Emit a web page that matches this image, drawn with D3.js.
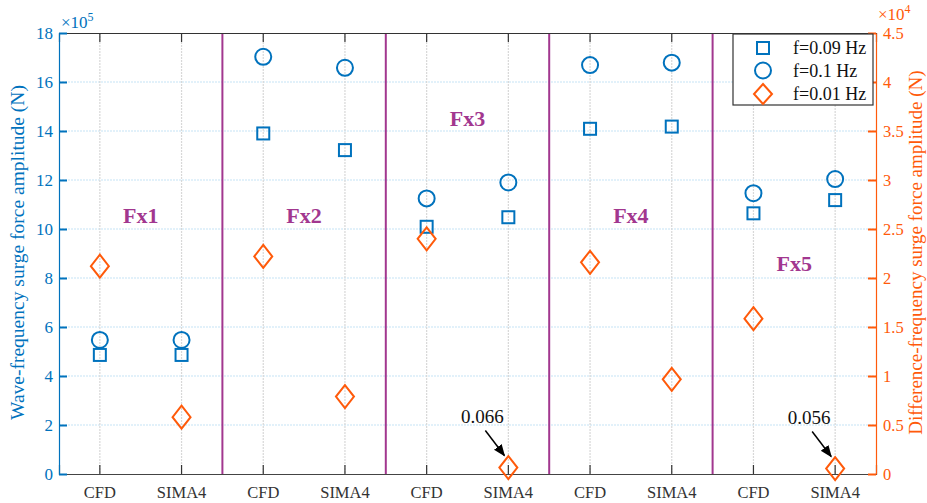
<!DOCTYPE html>
<html>
<head>
<meta charset="utf-8">
<script src="https://cdn.jsdelivr.net/npm/d3@7"></script>
<style>
  body { margin: 0; background: #fff; }
  svg text { font-family: "Liberation Serif", "DejaVu Serif", serif; }
</style>
</head>
<body>
<div id="chart"></div>
<script>
// categories and data
var groups = ["Fx1", "Fx2", "Fx3", "Fx4", "Fx5"];
var methods = ["CFD", "SIMA4"];
var cats = ["CFD", "SIMA4", "CFD", "SIMA4", "CFD", "SIMA4", "CFD", "SIMA4", "CFD", "SIMA4"];
// wave-frequency amplitude, x10^5 N (left axis)
var f009 = [4.86, 4.86, 13.9, 13.22, 10.09, 10.48, 14.09, 14.18, 10.64, 11.18];
var f01 = [5.47, 5.47, 17.03, 16.58, 11.25, 11.9, 16.69, 16.79, 11.46, 12.04];
// difference-frequency amplitude, x10^4 N (right axis)
var f001 = [2.12, 0.58, 2.22, 0.79, 2.4, 0.066, 2.16, 0.966, 1.585, 0.056];
var leftTicks = [0, 2, 4, 6, 8, 10, 12, 14, 16, 18];
var rightTicks = [0, 0.5, 1, 1.5, 2, 2.5, 3, 3.5, 4, 4.5];
var groupLabelY = [10.57, 10.57, 14.5, 10.57, 8.6];
var notes = [{i: 5, text: "0.066"}, {i: 9, text: "0.056"}];
var legendItems = ["f=0.09 Hz", "f=0.1 Hz", "f=0.01 Hz"];

var blue = "#0072bd", orange = "#ff5a0a", purple = "#a2378f";
var serif = "Liberation Serif";

var margin = {top: 33, right: 51, bottom: 29, left: 59},
    width = 927 - margin.left - margin.right,
    height = 503 - margin.top - margin.bottom;

var svg = d3.select("#chart").append("svg")
    .attr("width", 927).attr("height", 503)
  .append("g")
    .attr("transform", "translate(" + margin.left + "," + margin.top + ")");

var x = d3.scaleBand().domain(d3.range(cats.length)).range([0, width]).padding(0);
var cx = function(i) { return x(i) + x.bandwidth() / 2; };
var y = d3.scaleLinear().domain([0, 18]).range([height, 0]);
var y2 = d3.scaleLinear().domain([0, 4.5]).range([height, 0]);

// grid
svg.append("g").selectAll("line").data(leftTicks.slice(1, -1)).enter().append("line")
    .attr("x1", 0).attr("x2", width)
    .attr("y1", function(d) { return y(d); }).attr("y2", function(d) { return y(d); })
    .attr("stroke", "#c6e3f5").attr("stroke-width", 1.2).attr("stroke-dasharray", "2,1");
svg.append("g").selectAll("line").data(d3.range(cats.length)).enter().append("line")
    .attr("x1", cx).attr("x2", cx)
    .attr("y1", 0).attr("y2", height)
    .attr("stroke", "#d8d8d8").attr("stroke-width", 1.2).attr("stroke-dasharray", "2,1");

// group separators
svg.append("g").selectAll("line").data([2, 4, 6, 8]).enter().append("line")
    .attr("x1", function(d) { return x(d); }).attr("x2", function(d) { return x(d); })
    .attr("y1", 0).attr("y2", height)
    .attr("stroke", purple).attr("stroke-width", 2);

// axes
var xAxis = d3.axisBottom(x).tickSize(-9).tickPadding(12).tickFormat(function(i) { return cats[i]; });
var gx = svg.append("g").attr("transform", "translate(0," + height + ")").call(xAxis)
    .attr("font-family", serif).attr("font-size", 16.5);
gx.select(".domain").attr("stroke", "#444").attr("stroke-width", 1.2);
gx.selectAll(".tick line").attr("stroke", "#333").attr("stroke-width", 1.2);
gx.selectAll("text").attr("fill", "#333");

var xTop = d3.axisTop(x).tickSize(-9).tickFormat("");
var gt = svg.append("g").call(xTop);
gt.select(".domain").attr("stroke", "#333").attr("stroke-width", 1.2);
gt.selectAll(".tick line").attr("stroke", "#333").attr("stroke-width", 1.2);

var yAxis = d3.axisLeft(y).tickValues(leftTicks).tickSize(-8).tickPadding(6).tickSizeOuter(0);
var gy = svg.append("g").call(yAxis)
    .attr("font-family", serif).attr("font-size", 17);
gy.select(".domain").attr("stroke", blue).attr("stroke-width", 1.2);
gy.selectAll(".tick line").attr("stroke", blue).attr("stroke-width", 2);
gy.selectAll("text").attr("fill", blue);

var yAxis2 = d3.axisRight(y2).tickValues(rightTicks).tickSize(-8).tickPadding(7).tickSizeOuter(0)
    .tickFormat(function(d) { return d3.format("")(d); });
var gy2 = svg.append("g").attr("transform", "translate(" + width + ",0)").call(yAxis2)
    .attr("font-family", serif).attr("font-size", 16.5);
gy2.select(".domain").attr("stroke", orange).attr("stroke-width", 1.2);
gy2.selectAll(".tick line").attr("stroke", orange).attr("stroke-width", 2);
gy2.selectAll("text").attr("fill", orange);

// exponent labels
var e1 = svg.append("text").attr("x", 2).attr("y", -5).attr("fill", blue).style("font-size", "17px");
e1.append("tspan").text("\u00d710");
e1.append("tspan").attr("dy", -7).style("font-size", "12px").text("5");
var e2 = svg.append("text").attr("x", width + 2).attr("y", -13).attr("fill", orange).style("font-size", "17px");
e2.append("tspan").text("\u00d710");
e2.append("tspan").attr("dy", -7).style("font-size", "12px").text("4");

// axis titles
svg.append("text")
    .attr("transform", "translate(" + (-35) + "," + (height / 2 - 1) + ") rotate(-90)")
    .attr("text-anchor", "middle").attr("fill", blue).style("font-size", "19.5px")
    .text("Wave-frequency surge force amplitude (N)");
svg.append("text")
    .attr("transform", "translate(" + (width + 46) + "," + (height / 2 - 1) + ") rotate(-90)")
    .attr("text-anchor", "middle").attr("fill", orange).style("font-size", "19px")
    .text("Difference-frequency surge force amplitude (N)");

// group labels
svg.append("g").selectAll("text").data(groups).enter().append("text")
    .attr("x", function(d, i) { return x(2 * i + 1); })
    .attr("y", function(d, i) { return y(groupLabelY[i]); })
    .attr("dy", "0.35em")
    .attr("text-anchor", "middle")
    .attr("fill", purple).style("font-weight", "bold").style("font-size", "22px")
    .text(function(d) { return d; });

// markers
var sq = 12, rc = 8, dw = 9, dh = 11.5;
function diamond(px, py) {
  return "M" + px + "," + (py - dh) + "L" + (px + dw) + "," + py + "L" + px + "," + (py + dh) + "L" + (px - dw) + "," + py + "Z";
}

svg.append("g").selectAll("rect").data(f009).enter().append("rect")
    .attr("x", function(d, i) { return cx(i) - sq / 2; })
    .attr("y", function(d) { return y(d) - sq / 2; })
    .attr("width", sq).attr("height", sq)
    .attr("fill", "none").attr("stroke", blue).attr("stroke-width", 2);

svg.append("g").selectAll("circle").data(f01).enter().append("circle")
    .attr("cx", function(d, i) { return cx(i); })
    .attr("cy", function(d) { return y(d); })
    .attr("r", rc)
    .attr("fill", "none").attr("stroke", blue).attr("stroke-width", 2);

svg.append("g").selectAll("path").data(f001).enter().append("path")
    .attr("d", function(d, i) { return diamond(cx(i), y2(d)); })
    .attr("fill", "none").attr("stroke", orange).attr("stroke-width", 2);

// annotations
svg.append("defs").append("marker")
    .attr("id", "arrow").attr("viewBox", "0 0 10 10").attr("refX", 9).attr("refY", 5)
    .attr("markerWidth", 8).attr("markerHeight", 8).attr("orient", "auto")
  .append("path").attr("d", "M0,1L10,5L0,9Z").attr("fill", "#000");

notes.forEach(function(n) {
  var px = cx(n.i), py = y2(f001[n.i]);
  svg.append("text").attr("x", px - 26).attr("y", py - 45)
      .attr("text-anchor", "middle").attr("fill", "#111").style("font-size", "19px")
      .text(n.text);
  svg.append("line")
      .attr("x1", px - 23).attr("y1", py - 37)
      .attr("x2", px - 4).attr("y2", py - 12)
      .attr("stroke", "#000").attr("stroke-width", 1.5)
      .attr("marker-end", "url(#arrow)");
});

// legend
var lg = svg.append("g").attr("transform", "translate(" + (width - 143) + ",1)");
lg.append("rect").attr("width", 140).attr("height", 71)
    .attr("fill", "#fff").attr("stroke", "#333").attr("stroke-width", 1.2);
var rows = [14, 36.5, 60];
lg.append("rect").attr("x", 30 - sq / 2).attr("y", rows[0] - sq / 2).attr("width", sq).attr("height", sq)
    .attr("fill", "none").attr("stroke", blue).attr("stroke-width", 2);
lg.append("circle").attr("cx", 30).attr("cy", rows[1]).attr("r", rc)
    .attr("fill", "none").attr("stroke", blue).attr("stroke-width", 2);
lg.append("path").attr("d", "M30," + (rows[2] - 10) + "L39," + rows[2] + "L30," + (rows[2] + 10) + "L21," + rows[2] + "Z")
    .attr("fill", "none").attr("stroke", orange).attr("stroke-width", 2);
lg.selectAll("text.lbl").data(legendItems).enter().append("text")
    .attr("class", "lbl")
    .attr("x", 60).attr("y", function(d, i) { return rows[i]; }).attr("dy", "0.35em")
    .attr("fill", "#111").style("font-size", "18px")
    .text(function(d) { return d; });
</script>
</body>
</html>
